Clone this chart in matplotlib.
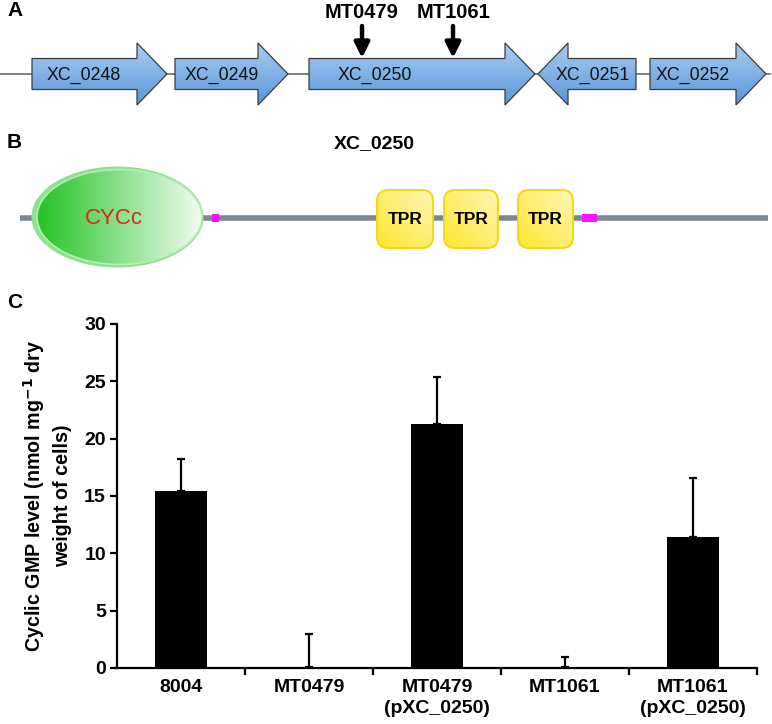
import numpy as np
import matplotlib
matplotlib.use('Agg')
import matplotlib.pyplot as plt
from matplotlib.patches import Polygon, Ellipse, FancyBboxPatch, Rectangle
from matplotlib.colors import LinearSegmentedColormap

plt.rcParams['font.family'] = ['Liberation Sans', 'DejaVu Sans']

# panel A: gene map (diagram units = pixels)
gene_names = ['XC_0248', 'XC_0249', 'XC_0250', 'XC_0251', 'XC_0252']
gene_start = [32, 175, 309, 538, 650]
gene_end = [167, 288, 535, 636, 766]
gene_strand = [1, 1, 1, -1, 1]
gene_label_x = [84, 222, 375, 593, 693]
mut_names = ['MT0479', 'MT1061']
mut_pos = [362, 453]

# panel B: domains of XC_0250
prot_start, prot_end = 20, 768
cyc_span = (33, 202)
tpr_start = [377, 444, 518]
tpr_end = [433, 498, 573]
lowc_start = [212, 582]
lowc_end = [219, 597]

# panel C: cGMP levels
categories = ['8004', 'MT0479', 'MT0479\n(pXC_0250)', 'MT1061', 'MT1061\n(pXC_0250)']
values = [15.4, 0.1, 21.3, 0.1, 11.4]
errors = [2.8, 2.9, 4.1, 0.9, 5.2]

fig = plt.figure(figsize=(7.72, 7.24), dpi=100)
ax0 = fig.add_axes([0, 0, 1, 1])
ax0.set_xlim(0, 772)
ax0.set_ylim(724, 0)
ax0.axis('off')


def grad_fill(ax, patch, c1, c2, ext, horizontal=False):
    cmap = LinearSegmentedColormap.from_list('g', [c1, c2])
    g = np.linspace(0, 1, 256)
    arr = g[None, :] if horizontal else g[:, None]
    im = ax.imshow(arr, cmap=cmap, extent=ext, origin='lower', aspect='auto', zorder=patch.get_zorder() - 0.1)
    im.set_clip_path(patch)


# ---- A ----
ax0.text(7, 11, 'A', fontsize=15, fontweight='bold', va='center', ha='left')
yc = 74
ax0.plot([0, 770], [yc, yc], color='#777777', lw=1.3, zorder=1)
hl, bh, hh = 30, 15.5, 31
for nm, s, e, st, lx in zip(gene_names, gene_start, gene_end, gene_strand, gene_label_x):
    if st > 0:
        b = e - hl
        pts = [(s, yc - bh), (b, yc - bh), (b, yc - hh), (e, yc), (b, yc + hh), (b, yc + bh), (s, yc + bh)]
    else:
        b = s + hl
        pts = [(e, yc - bh), (b, yc - bh), (b, yc - hh), (s, yc), (b, yc + hh), (b, yc + bh), (e, yc + bh)]
    poly = Polygon(pts, closed=True, facecolor='none', edgecolor='#3c3c3c', lw=0.9, zorder=3)
    ax0.add_patch(poly)
    grad_fill(ax0, poly, '#5a96d8', '#a8cdf3', (s, e, yc + hh, yc - hh))
    ax0.text(lx, yc + 1, nm, fontsize=12.8, ha='center', va='center', color='#111111', zorder=4)

for nm, x in zip(mut_names, mut_pos):
    ax0.text(x, 13, nm, fontsize=14.5, fontweight='bold', ha='center', va='center')
    ax0.annotate('', xy=(x, 58), xytext=(x, 26),
                 arrowprops=dict(arrowstyle='-|>,head_width=0.45,head_length=0.9', color='black', lw=3.2,
                                 shrinkA=0, shrinkB=0), zorder=5)

# ---- B ----
ax0.text(7, 143, 'B', fontsize=15, fontweight='bold', va='center', ha='left')
ax0.text(374, 144, 'XC_0250', fontsize=14, fontweight='bold', ha='center', va='center')
yb = 218
ax0.plot([prot_start, prot_end], [yb, yb], color='#7a8896', lw=4, solid_capstyle='butt', zorder=1)
for s, e in zip(lowc_start, lowc_end):
    ax0.add_patch(Rectangle((s, yb - 4), e - s, 8, facecolor='#ff10ff', edgecolor='none', zorder=2))

cx = (cyc_span[0] + cyc_span[1]) / 2
cw = cyc_span[1] - cyc_span[0]
ax0.add_patch(Ellipse((cx, yb - 1), cw + 3, 101, facecolor='#8fe08f', edgecolor='none', zorder=2))
ell = Ellipse((cx + 2, yb - 1), cw - 4, 95, facecolor='none', edgecolor='#b5efb5', lw=1.2, zorder=3)
ax0.add_patch(ell)
grad_fill(ax0, ell, '#1fc21f', '#f2fcf2', (cyc_span[0], cyc_span[1], yb + 50, yb - 50), horizontal=True)
ax0.text(cx - 4, yb + 1, 'CYCc', fontsize=16, color='#d42a1e', ha='center', va='center', zorder=4)

for s, e in zip(tpr_start, tpr_end):
    box = FancyBboxPatch((s, yb - 28), e - s, 58, boxstyle='round,pad=0,rounding_size=11',
                         facecolor='none', edgecolor='#f4d81a', lw=1.5, zorder=3)
    ax0.add_patch(box)
    cmap = LinearSegmentedColormap.from_list('y', ['#ffe52c', '#fff7b8'])
    gx, gy = np.meshgrid(np.linspace(0, 1, 64), np.linspace(0, 1, 64))
    im = ax0.imshow((gx + gy) / 2, cmap=cmap, extent=(s, e, yb + 30, yb - 28), origin='lower',
                    aspect='auto', zorder=2.9)
    im.set_clip_path(box)
    ax0.text((s + e) / 2, yb + 1, 'TPR', fontsize=12.5, fontweight='bold', ha='center', va='center', zorder=4)

ax0.set_xlim(0, 772)
ax0.set_ylim(724, 0)

# ---- C ----
ax0.text(7, 303, 'C', fontsize=15, fontweight='bold', va='center', ha='left')
ax = fig.add_axes([117 / 772, 56 / 724, 640 / 772, 344 / 724])
x = np.arange(len(categories))
ax.bar(x, values, width=0.41, color='black', zorder=2)
ax.errorbar(x, values, yerr=[np.zeros(len(errors)), errors], fmt='none', ecolor='black',
            elinewidth=1.6, capsize=3, capthick=1.6, zorder=3)
ax.set_xlim(-0.5, 4.5)
ax.set_ylim(0, 30)
ax.set_yticks(np.arange(0, 31, 5))
ax.set_xticks(np.arange(0.5, 5, 1))
ax.set_xticklabels([])
ax.set_xticks(x, minor=True)
ax.set_xticklabels(categories, minor=True, fontsize=14, fontweight='bold', linespacing=1.3)
ax.tick_params(axis='x', which='minor', length=0, pad=8)
ax.tick_params(axis='both', which='major', length=5, width=1.6, direction='out')
ax.tick_params(axis='y', labelsize=14, pad=3)
for lab in ax.get_yticklabels():
    lab.set_fontweight('bold')
for sp in ['top', 'right']:
    ax.spines[sp].set_visible(False)
for sp in ['left', 'bottom']:
    ax.spines[sp].set_linewidth(1.6)
ax.text(-0.11, 0.5, 'Cyclic GMP level (nmol mg$^{\\mathbf{-1}}$ dry\nweight of cells)', transform=ax.transAxes,
        rotation=90, ha='center', va='center', multialignment='center', fontsize=14.2, fontweight='bold',
        linespacing=1.35)

fig.savefig('out.png', dpi=100)
